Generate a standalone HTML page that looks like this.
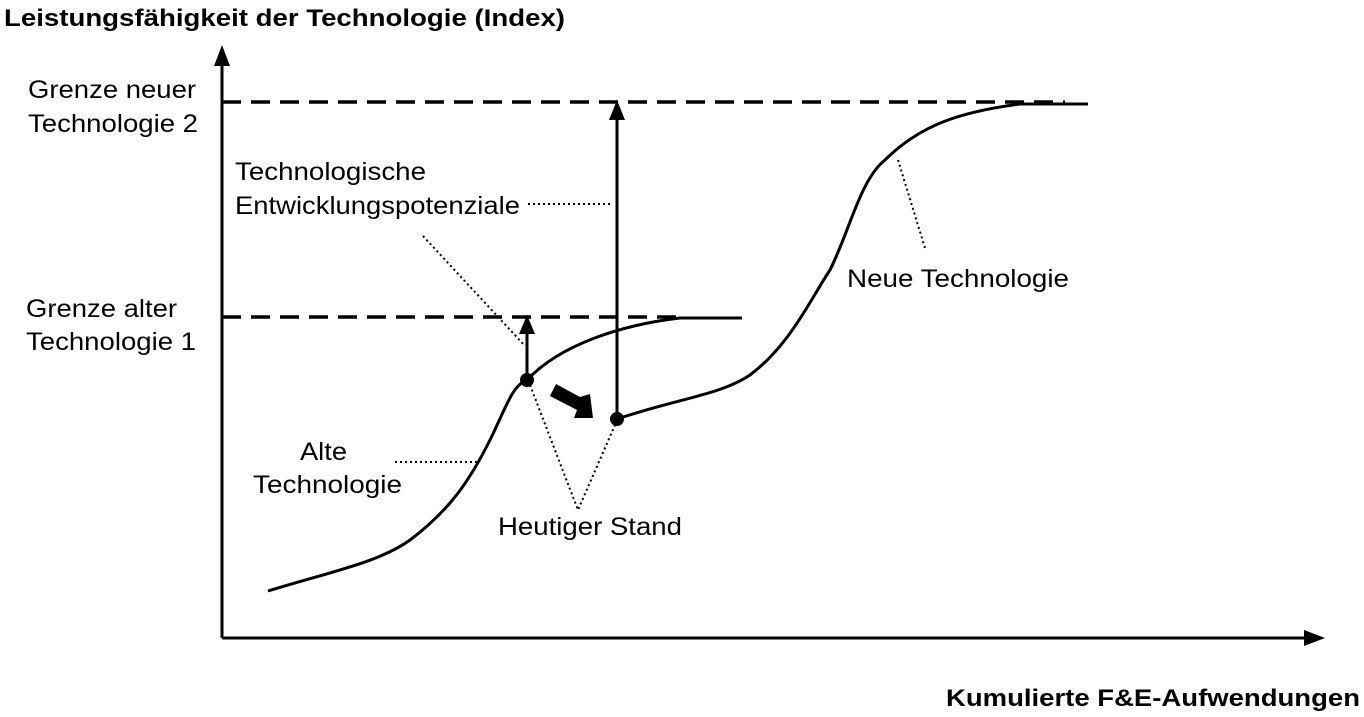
<!DOCTYPE html>
<html><head><meta charset="utf-8"><style>
html,body{margin:0;padding:0;background:#fff;}
svg{display:block;}
text{font-family:"Liberation Sans",Arial,sans-serif;fill:#000;}
</style></head><body>
<svg width="1364" height="717" viewBox="0 0 1364 717" xmlns="http://www.w3.org/2000/svg">
<text x="4" y="26" font-size="24" font-weight="bold" textLength="561" lengthAdjust="spacingAndGlyphs">Leistungsfähigkeit der Technologie (Index)</text>
<text x="946" y="706" font-size="24" font-weight="bold" textLength="414" lengthAdjust="spacingAndGlyphs">Kumulierte F&amp;E-Aufwendungen</text>
<!-- axes -->
<line x1="222" y1="60" x2="222" y2="638" stroke="#000" stroke-width="3"/>
<polygon points="222,45 214,66 230,66" fill="#000"/>
<line x1="222" y1="638" x2="1305" y2="638" stroke="#000" stroke-width="3"/>
<polygon points="1325,638 1304,630 1304,646" fill="#000"/>
<!-- dashed -->
<line x1="222" y1="102" x2="1065" y2="102" stroke="#000" stroke-width="3.5" stroke-dasharray="19,10"/>
<line x1="222" y1="317" x2="682" y2="317" stroke="#000" stroke-width="3.5" stroke-dasharray="19,10"/>
<!-- curves -->
<path d="M268,591 C330,572 380,562 410,540 C450,510 470,480 490,440 C505,410 512,385 527,380 C560,345 620,325 680,318 L742,318" fill="none" stroke="#000" stroke-width="3"/>
<path d="M617,419 C680,398 720,395 750,375 C790,345 810,300 830,270 C850,230 860,180 885,160 C920,125 960,112 1020,104 L1088,104" fill="none" stroke="#000" stroke-width="3"/>
<!-- arrows -->
<line x1="527" y1="380" x2="527" y2="332" stroke="#000" stroke-width="3"/>
<polygon points="527,315 519,334 535,334" fill="#000"/>
<line x1="617" y1="419" x2="617" y2="118" stroke="#000" stroke-width="3"/>
<polygon points="617,100 609,120 625,120" fill="#000"/>
<circle cx="527" cy="380" r="7" fill="#000"/>
<circle cx="617" cy="419" r="7" fill="#000"/>
<!-- fat arrow -->
<polygon points="550,396 556,384 580,397 590,394 593,418 574,418 577,410" fill="#000"/>
<!-- dotted leaders -->
<g stroke="#000" stroke-width="2" stroke-dasharray="2,3" fill="none">
<line x1="423" y1="236" x2="525" y2="346"/>
<polyline points="530,385 578,510 615,425"/>
<line x1="395" y1="462" x2="480" y2="462"/>
<line x1="528" y1="204" x2="612" y2="204"/>
<line x1="898" y1="160" x2="925" y2="248"/>
</g>
<g font-size="25" lengthAdjust="spacingAndGlyphs">
<text x="28" y="98" textLength="168" lengthAdjust="spacingAndGlyphs">Grenze neuer</text>
<text x="28" y="132" textLength="170" lengthAdjust="spacingAndGlyphs">Technologie 2</text>
<text x="235" y="180" textLength="191" lengthAdjust="spacingAndGlyphs">Technologische</text>
<text x="235" y="214" textLength="285" lengthAdjust="spacingAndGlyphs">Entwicklungspotenziale</text>
<text x="26" y="317" textLength="151" lengthAdjust="spacingAndGlyphs">Grenze alter</text>
<text x="26" y="350" textLength="170" lengthAdjust="spacingAndGlyphs">Technologie 1</text>
<text x="300" y="460" textLength="47" lengthAdjust="spacingAndGlyphs">Alte</text>
<text x="253" y="493" textLength="149" lengthAdjust="spacingAndGlyphs">Technologie</text>
<text x="498" y="535" textLength="184" lengthAdjust="spacingAndGlyphs">Heutiger Stand</text>
<text x="847" y="287" textLength="222" lengthAdjust="spacingAndGlyphs">Neue Technologie</text>
</g>
</svg>
</body></html>
